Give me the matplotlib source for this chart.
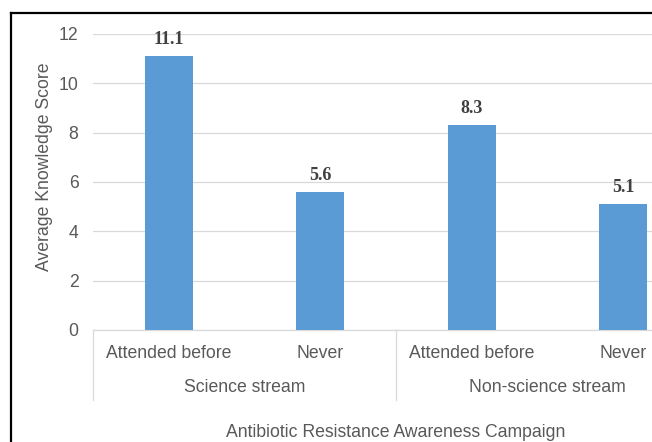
import matplotlib
matplotlib.use("Agg")
import matplotlib.pyplot as plt
import matplotlib.transforms as mtransforms
from matplotlib.lines import Line2D

# data
categories = ["Attended before", "Never", "Attended before", "Never"]
groups = ["Science stream", "Non-science stream"]
scores = [11.1, 5.6, 8.3, 5.1]
y_ticks = [0, 2, 4, 6, 8, 10, 12]
y_label = "Average Knowledge Score"
x_label = "Antibiotic Resistance Awareness Campaign"

W, H = 652, 442
bar_color = "#5B9BD5"
grid_color = "#D9D9D9"
tick_color = "#595959"
fs = 12.7

plt.rcParams["font.family"] = ["Liberation Sans", "DejaVu Sans"]

fig = plt.figure(figsize=(W / 100, H / 100), dpi=100)
fig.patch.set_facecolor("white")

# plot area in pixels: x 93..699 (cut off at 652), y 34..330
ax = fig.add_axes([93 / W, (H - 330) / H, 606 / W, 296 / H])
x = list(range(len(scores)))
ax.bar(x, scores, width=0.317, color=bar_color, zorder=3)
ax.set_xlim(-0.5, len(scores) - 0.5)
ax.set_ylim(0, 12)
ax.set_yticks(y_ticks)
ax.set_yticklabels([str(t) for t in y_ticks], fontsize=fs, color=tick_color)
ax.tick_params(axis="y", length=0, pad=10.5)
ax.set_xticks([])
for s in ["top", "right", "left"]:
    ax.spines[s].set_visible(False)
ax.spines["bottom"].set_color(grid_color)
ax.spines["bottom"].set_linewidth(0.9)
ax.yaxis.grid(True, color=grid_color, linewidth=0.9, zorder=0)

# value labels
for xi, v in zip(x, scores):
    ax.annotate(f"{v:.1f}", (xi, v), xytext=(0, 8.6), textcoords="offset points",
                ha="center", va="baseline", fontsize=13, fontweight="bold",
                family="Liberation Serif", color="#404040")

# multi-level category axis
trans = mtransforms.blended_transform_factory(ax.transData, fig.transFigure)
for xi, c in zip(x, categories):
    ax.text(xi, 1 - 353 / H, c, transform=trans, ha="center", va="center",
            fontsize=fs, color=tick_color)
for gi, g in enumerate(groups):
    ax.text(gi * 2 + 0.5, 1 - 387 / H, g, transform=trans, ha="center", va="center",
            fontsize=fs, color=tick_color)
for sep in [-0.5, 1.5, 3.5]:
    ax.add_line(Line2D([sep, sep], [1 - 330 / H, 1 - 400 / H], transform=trans,
                       color=grid_color, linewidth=0.9, clip_on=False))

# axis titles
fig.text(45 / W, 1 - 167 / H, y_label, rotation=90, ha="center", va="center",
         fontsize=fs, color=tick_color)
fig.text(396 / W, 1 - 437 / H, x_label, ha="center", va="baseline",
         fontsize=fs, color=tick_color)

# outer frame (only top and left visible)
fig.add_artist(Line2D([10.5 / W, 1.0], [1 - 12.5 / H, 1 - 12.5 / H],
                      transform=fig.transFigure, color="black", linewidth=1.6))
fig.add_artist(Line2D([10.5 / W, 10.5 / W], [0, 1 - 12.5 / H],
                      transform=fig.transFigure, color="black", linewidth=1.6))

fig.savefig("out.png", dpi=100)
